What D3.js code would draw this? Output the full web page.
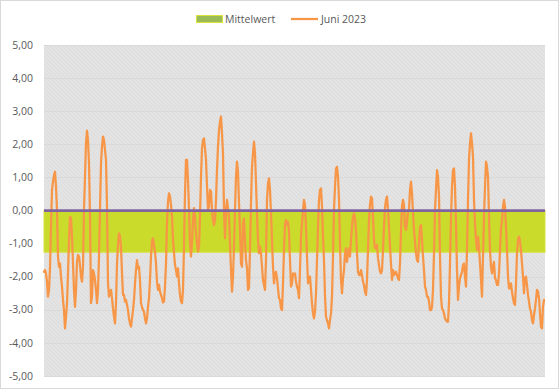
<!DOCTYPE html>
<html><head><meta charset="utf-8">
<script src="https://cdn.jsdelivr.net/npm/d3@7"></script>
<style>body{margin:0;background:#fff}svg{display:block}</style>
</head><body>
<script>
const seriesName = "Juni 2023";
const meanName = "Mittelwert";
const meanValue = -1.26;
const yTicks = [5,4,3,2,1,0,-1,-2,-3,-4,-5];
const juni2023 = [
-1.85,-1.80,-1.90,-2.15,-2.60,-2.40,-1.75,-0.49,0.62,0.87,1.07,1.17,0.72,0.02,-1.39,-1.70,-1.60,-2.00,-2.30,-2.70,
-3.01,-3.56,-3.21,-2.80,-1.90,-0.89,-0.19,-0.24,-0.79,-1.60,-2.40,-2.91,-2.40,-1.55,-1.34,-1.39,-1.65,-2.00,-2.15,-1.70,
0.02,1.02,2.03,2.41,2.13,1.42,-0.19,-2.80,-2.60,-1.80,-1.90,-2.10,-2.40,-2.80,-2.40,-1.39,0.02,1.42,1.93,2.23,
2.13,1.83,1.53,0.12,-2.20,-2.60,-2.50,-2.40,-2.65,-2.96,-3.21,-3.41,-2.80,-1.60,-1.04,-0.69,-0.79,-1.09,-1.90,-2.55,
-2.55,-2.75,-2.70,-2.85,-3.01,-3.26,-3.41,-3.51,-3.26,-3.01,-2.70,-2.20,-1.80,-1.50,-1.75,-1.70,-2.10,-2.80,-2.91,-3.01,
-3.06,-3.26,-3.41,-3.26,-2.91,-2.65,-2.10,-1.39,-0.94,-0.84,-1.04,-1.24,-1.60,-2.15,-2.40,-2.25,-2.45,-2.55,-2.65,-2.78,
-2.75,-2.30,-1.60,-0.39,0.27,0.52,
0.42,0.17,-0.19,-0.89,-1.29,-1.65,-1.80,-2.00,-1.75,-2.20,-2.55,-2.75,-2.80,-2.40,-1.09,0.52,1.53,1.53,0.92,0.02,
-0.99,-1.39,-0.99,-0.29,0.07,-0.19,-0.69,-0.99,-1.24,-1.09,-0.19,1.02,1.88,2.13,2.18,1.88,1.53,0.72,0.02,0.12,
0.62,0.57,0.02,-0.29,-0.44,-0.29,0.32,1.22,1.93,2.43,2.68,2.84,2.33,1.73,0.02,-0.84,0.02,0.32,0.07,-0.19,
-0.99,-1.80,-2.45,-2.00,-1.09,0.02,1.02,1.48,1.17,0.22,-0.59,-1.60,-1.70,-0.39,-0.24,-0.89,-1.50,-1.75,-2.40,-2.35,
-1.19,0.22,1.32,1.73,2.08,1.73,0.82,-0.09,-0.89,-1.29,-1.09,-1.29,-1.70,-2.10,-2.25,-2.40,-1.50,0.32,0.82,0.97,
0.62,-0.09,-0.89,-1.70,-2.20,-1.90,-1.85,-2.05,-2.35,-2.65,-2.70,-2.96,-3.01,-2.20,-1.19,-0.44,-0.29,-0.44,-0.34,-0.64,
-1.50,-2.30,-2.20,-1.90,-1.95,
-1.90,-2.15,-2.30,-2.40,-2.65,-1.80,-0.79,-0.39,0.02,0.32,0.17,-0.49,-1.39,-2.20,-2.00,-2.00,-2.40,-2.80,-3.11,-3.26,
-3.06,-2.50,-1.50,-0.49,0.32,0.62,0.67,0.12,-0.79,-1.50,-2.60,-3.21,-3.31,-3.41,-3.56,-3.31,-3.11,-2.60,-1.39,0.02,
0.72,1.27,1.32,1.02,0.32,-0.99,-2.10,-2.50,-2.05,-1.80,-1.29,-1.14,-1.55,-1.29,-1.14,-1.39,-0.89,-0.49,-0.19,-0.09,
-0.24,-0.59,-1.29,-1.85,-1.95,-1.95,-1.80,-1.95,-2.15,-2.25,-2.45,-2.55,-2.10,-1.19,-0.29,0.17,0.42,0.37,-0.19,-0.89,
-1.14,-1.14,-1.04,-1.44,-1.65,-1.85,-1.90,-1.80,-1.19,-0.49,0.07,0.32,0.42,0.02,-0.49,-1.09,-1.60,-2.10,-1.80,-1.95,
-1.90,-1.85,-1.95,-2.05,-2.10,-1.60,-0.59,0.12,0.32,0.17,-0.49,-0.59,-0.34,-0.04,0.02,0.62,0.87,0.52,-0.09,-0.59,
-0.94,-1.29,-1.50,-1.55,-0.99,
-0.49,-0.44,-0.89,-1.39,-1.80,-2.30,-2.40,-2.60,-2.60,-2.75,-3.01,-3.01,-2.91,-2.40,-1.29,0.02,0.62,1.22,1.02,0.42,
-1.39,-2.60,-2.96,-3.01,-3.11,-3.26,-3.31,-3.36,-3.36,-2.80,-1.60,-0.19,0.72,1.22,1.27,0.72,-0.39,-1.80,-2.70,-2.30,
-2.05,-1.95,-1.85,-1.65,-1.60,-2.00,-2.30,-1.19,0.32,1.53,2.03,2.33,2.03,1.63,0.32,-0.39,-0.89,-1.19,-0.79,-1.09,
-1.60,-2.10,-2.60,-1.39,-0.19,0.72,1.48,1.32,1.02,-0.19,-1.19,-1.70,-1.90,-1.70,-1.55,-2.05,-2.10,-2.25,-2.25,-1.90,
-1.19,-0.54,-0.29,0.12,0.32,0.12,-0.49,-1.19,-2.00,-2.35,-2.35,-2.20,-2.45,-2.65,-2.80,-2.85,-2.20,-1.29,-0.89,-0.79,
-0.94,-1.19,-1.60,-2.00,-2.50,-2.05,-2.00,-2.25,-2.55,-2.75,-2.96,-3.06,-3.31,-3.41,-3.16,-2.96,-2.70,-2.40,-2.45,-2.65,
-3.11,-3.51,-3.56,-2.91,-2.70
];

const W = 559, H = 390;
const plot = {left: 44, right: 545, top: 45, bottom: 376};
const svg = d3.select("body").append("svg").attr("width", W).attr("height", H);

svg.append("rect").attr("x",0.5).attr("y",0.5).attr("width",W-1).attr("height",H-2)
  .attr("fill","#fff").attr("stroke","#d9d9d9");

const defs = svg.append("defs");
const pat = defs.append("pattern").attr("id","hatch").attr("patternUnits","userSpaceOnUse")
  .attr("width",4).attr("height",4);
pat.append("rect").attr("width",4).attr("height",4).attr("fill","#e3e3e3");
pat.append("path").attr("d","M-1,-1 L5,5 M3,-1 L5,1 M-1,3 L1,5").attr("stroke","#dcdcdc").attr("stroke-width",1);

const x = d3.scaleLinear().domain([0, juni2023.length-1]).range([plot.left, plot.right-1]);
const y = d3.scaleLinear().domain([-5, 5]).range([plot.bottom, plot.top]);

svg.append("rect").attr("x",plot.left).attr("y",plot.top)
  .attr("width",plot.right-plot.left).attr("height",plot.bottom-plot.top).attr("fill","url(#hatch)");

// gridlines
svg.append("g").selectAll("line").data(yTicks).join("line")
  .attr("x1",plot.left).attr("x2",plot.right)
  .attr("y1",d=>Math.round(y(d))+0.5).attr("y2",d=>Math.round(y(d))+0.5)
  .attr("stroke","#d9d9d9").attr("stroke-width",1);

// mean band
svg.append("rect").attr("x",plot.left).attr("width",plot.right-plot.left)
  .attr("y",y(0)).attr("height",y(meanValue)-y(0))
  .attr("fill","#cbdb2c").attr("stroke","#d7e23e").attr("stroke-width",1);

// series line
const line = d3.line().x((d,i)=>x(i)).y(d=>y(d));
svg.append("path").datum(juni2023).attr("d",line)
  .attr("fill","none").attr("stroke","#f79646").attr("stroke-width",2.25)
  .attr("stroke-linejoin","round").attr("stroke-linecap","round");

// zero line
svg.append("line").attr("x1",plot.left).attr("x2",plot.right)
  .attr("y1",y(0)).attr("y2",y(0)).attr("stroke","#8064a2").attr("stroke-width",2.75);

// y axis labels
const fmt = v => d3.format(".2f")(v).replace(".", ",").replace("−","-");
svg.append("g").selectAll("text").data(yTicks).join("text")
  .attr("x",33).attr("y",d=>y(d)).attr("dy","0.35em").attr("text-anchor","end")
  .attr("font-family","'Open Sans', sans-serif").attr("font-size",10.5).attr("fill","#595959")
  .text(fmt);

// legend
const lg = svg.append("g").attr("font-family","'Open Sans', sans-serif").attr("font-size",10.5).attr("fill","#595959");
lg.append("rect").attr("x",196.5).attr("y",15.5).attr("width",26).attr("height",7)
  .attr("fill","#9bbb59").attr("stroke","#dce43c").attr("stroke-width",1);
lg.append("text").attr("x",225).attr("y",19).attr("dy","0.35em").text(meanName);
lg.append("line").attr("x1",291).attr("x2",318).attr("y1",19).attr("y2",19)
  .attr("stroke","#f79646").attr("stroke-width",2.25);
lg.append("text").attr("x",321).attr("y",19).attr("dy","0.35em").text(seriesName);
</script>
</body></html>
